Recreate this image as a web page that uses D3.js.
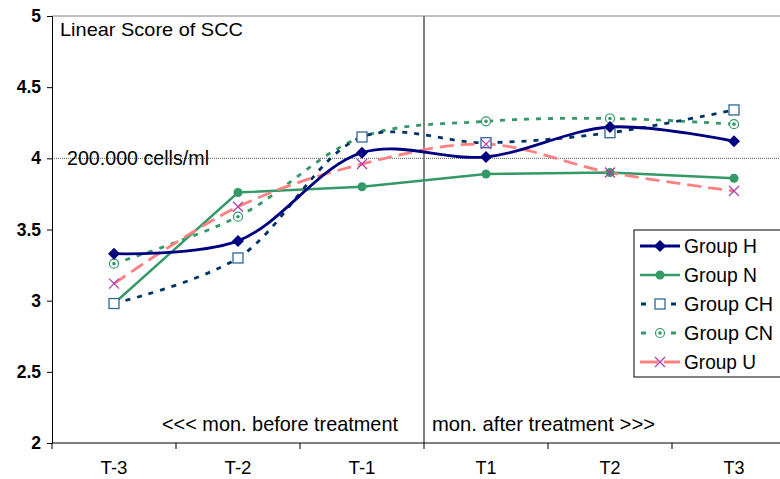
<!DOCTYPE html>
<html>
<head>
<meta charset="utf-8">
<script src="https://cdn.jsdelivr.net/npm/d3@7"></script>
<style>
  body { margin: 0; background: #fff; }
  svg { display: block; font-family: "Liberation Sans", Arial, sans-serif; }
</style>
</head>
<body>
<svg id="chart" width="780" height="479"></svg>
<script>
// data
const periods = ["T-3", "T-2", "T-1", "T1", "T2", "T3"];
const groupH  = [3.33, 3.42, 4.04, 4.01, 4.22, 4.12];
const groupN  = [2.98, 3.76, 3.80, 3.89, 3.90, 3.86];
const groupCH = [2.98, 3.30, 4.15, 4.11, 4.18, 4.34];
const groupCN = [3.26, 3.59, 4.15, 4.26, 4.28, 4.24];
const groupU  = [3.12, 3.66, 3.96, 4.10, 3.90, 3.77];
const yTicks  = [2, 2.5, 3, 3.5, 4, 4.5, 5];

let series = [
  {name: "Group H",  values: groupH,  color: "#000080", dash: null,   width: 2.8, curve: d3.curveCatmullRom.alpha(0.5), marker: "diamond", mcolor: "#000080"},
  {name: "Group N",  values: groupN,  color: "#339966", dash: null,   width: 2.4, curve: d3.curveLinear, marker: "circle", mcolor: "#339966"},
  {name: "Group CH", values: groupCH, color: "#003366", dash: "5,7",  width: 2.8, curve: d3.curveCatmullRom.alpha(0.5), marker: "square", mcolor: "#336699"},
  {name: "Group CN", values: groupCN, color: "#339966", dash: "5,7",  width: 2.8, curve: d3.curveCatmullRom.alpha(0.5), marker: "ring", mcolor: "#339966"},
  {name: "Group U",  values: groupU,  color: "#FF8080", dash: "14,7", width: 2.8, curve: d3.curveCatmullRom.alpha(0.5), marker: "cross", mcolor: "#B040B0"}
];

let svg = d3.select("#chart");
const margin = {left: 52, top: 16, right: -16, bottom: 36};
let width = 780, height = 479;

let xScale = d3.scaleBand()
  .domain(periods)
  .range([margin.left, width - margin.right]);

let yScale = d3.scaleLinear()
  .domain([2, 5])
  .range([height - margin.bottom, margin.top]);

// plot area top border
svg.append("line")
  .attr("x1", margin.left).attr("x2", width)
  .attr("y1", yScale(5)).attr("y2", yScale(5))
  .attr("stroke", "#808080").attr("stroke-width", 1);

// 200.000 cells/ml reference line
svg.append("line")
  .attr("x1", margin.left).attr("x2", width)
  .attr("y1", yScale(4)).attr("y2", yScale(4))
  .attr("stroke", "#555").attr("stroke-width", 1)
  .attr("stroke-dasharray", "1,1");

// treatment divider between T-1 and T1
let divX = xScale("T1");
svg.append("line")
  .attr("x1", divX).attr("x2", divX)
  .attr("y1", yScale(5)).attr("y2", yScale(2))
  .attr("stroke", "#808080").attr("stroke-width", 2);

// axes
let xAxis = svg.append("g")
  .attr("transform", `translate(0,${yScale(2)})`)
  .call(d3.axisBottom(xScale).tickSize(0).tickPadding(18));
xAxis.select(".domain").remove();
xAxis.selectAll("text")
  .attr("font-size", 18).attr("fill", "#000")
  .attr("textLength", 27).attr("lengthAdjust", "spacingAndGlyphs");
xAxis.selectAll("text").filter(d => d.length === 2).attr("textLength", 21);
xAxis.append("line")
  .attr("x1", margin.left).attr("x2", width)
  .attr("stroke", "#000").attr("stroke-width", 1);
periods.forEach(p => {
  xAxis.append("line")
    .attr("x1", xScale(p)).attr("x2", xScale(p))
    .attr("y1", 0).attr("y2", 6)
    .attr("stroke", "#000");
});

let yAxis = svg.append("g")
  .attr("transform", `translate(${margin.left},0)`)
  .call(d3.axisLeft(yScale).tickValues(yTicks).tickFormat(d3.format("")).tickSize(5).tickPadding(6));
yAxis.select(".domain").attr("stroke", "#000");
yAxis.selectAll(".tick line").attr("stroke", "#000");
yAxis.selectAll("text")
  .attr("font-weight", "bold").attr("font-size", 17.5).attr("fill", "#000");

// annotations
function note(x, y, size, len, str, anchor) {
  svg.append("text").attr("x", x).attr("y", y)
    .attr("font-size", size).attr("fill", "#000")
    .attr("text-anchor", anchor || "start")
    .attr("textLength", len).attr("lengthAdjust", "spacingAndGlyphs")
    .text(str);
}
note(60, 36, 19, 183, "Linear Score of SCC");
note(67, 165, 21, 142, "200.000 cells/ml");
note(162, 431, 21, 236, "<<< mon. before treatment");
note(432, 431, 21, 223, "mon. after treatment >>>");

let cx = p => xScale(p) + xScale.bandwidth() / 2;

function drawMarker(g, type, color, x, y) {
  if (type === "diamond") {
    g.append("path").attr("d", `M${x},${y-6}L${x+6},${y}L${x},${y+6}L${x-6},${y}Z`).attr("fill", color);
  } else if (type === "circle") {
    g.append("circle").attr("cx", x).attr("cy", y).attr("r", 4.5).attr("fill", color);
  } else if (type === "square") {
    g.append("rect").attr("x", x-5).attr("y", y-5).attr("width", 10).attr("height", 10)
      .attr("fill", "#fff").attr("stroke", color).attr("stroke-width", 1.3);
  } else if (type === "ring") {
    g.append("circle").attr("cx", x).attr("cy", y).attr("r", 4.5)
      .attr("fill", "#fff").attr("stroke", color).attr("stroke-width", 1.2);
    g.append("circle").attr("cx", x).attr("cy", y).attr("r", 1.8).attr("fill", color);
  } else if (type === "cross") {
    g.append("path").attr("d", `M${x-5},${y-5}L${x+5},${y+5}M${x-5},${y+5}L${x+5},${y-5}`)
      .attr("stroke", color).attr("stroke-width", 1.3).attr("fill", "none");
  }
}

// lines, drawn back to front
let order = [series[1], series[3], series[2], series[4], series[0]];
order.forEach(s => {
  let line = d3.line()
    .x((d, i) => cx(periods[i]))
    .y(d => yScale(d))
    .curve(s.curve);
  svg.append("path")
    .datum(s.values)
    .attr("d", line)
    .attr("fill", "none")
    .attr("stroke", s.color)
    .attr("stroke-width", s.width)
    .attr("stroke-dasharray", s.dash);
});
order.forEach(s => {
  let g = svg.append("g");
  s.values.forEach((v, i) => drawMarker(g, s.marker, s.mcolor, cx(periods[i]), yScale(v)));
});

// legend
let legend = svg.append("g").attr("transform", "translate(634,230)");
legend.append("rect").attr("x", 0).attr("y", 0).attr("width", 160).attr("height", 147)
  .attr("fill", "#fff").attr("stroke", "#000").attr("stroke-width", 1);
let legendLen = {"Group H": 73, "Group N": 73, "Group CH": 89, "Group CN": 89, "Group U": 72};
series.forEach((s, i) => {
  let y = 16 + i * 29;
  legend.append("line").attr("x1", 6).attr("x2", 46).attr("y1", y).attr("y2", y)
    .attr("stroke", s.color).attr("stroke-width", s.width)
    .attr("stroke-dasharray", s.dash ? (s.name === "Group U" ? "18,6" : "5,10") : null)
    .attr("stroke-dashoffset", s.name === "Group U" ? 0 : -1);
  drawMarker(legend, s.marker, s.mcolor, 26, y);
  legend.append("text").attr("x", 50).attr("y", y + 7)
    .attr("font-size", 21).attr("fill", "#000")
    .attr("textLength", legendLen[s.name]).attr("lengthAdjust", "spacingAndGlyphs")
    .text(s.name);
});
</script>
</body>
</html>
